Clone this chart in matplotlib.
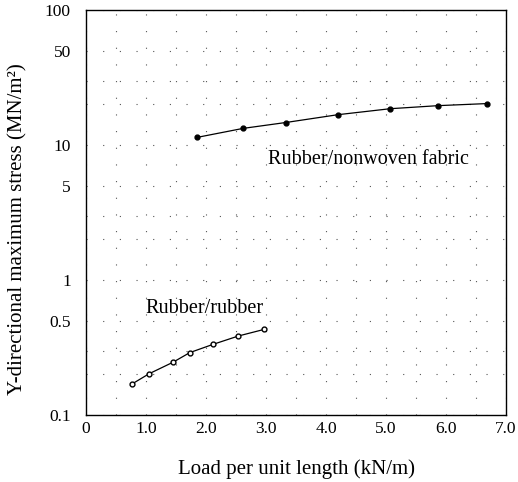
import matplotlib.pyplot as plt
from matplotlib.ticker import FixedLocator, FixedFormatter, MultipleLocator, NullFormatter

plt.rcParams['font.family'] = ['Liberation Serif', 'DejaVu Serif']

# Rubber/nonwoven fabric (filled markers)
x_fabric = [1.85, 2.62, 3.33, 4.20, 5.07, 5.87, 6.68]
y_fabric = [11.4, 13.3, 14.7, 16.8, 18.6, 19.6, 20.3]

# Rubber/rubber (open markers)
x_rubber = [0.76, 1.05, 1.45, 1.73, 2.11, 2.54, 2.97]
y_rubber = [0.169, 0.202, 0.246, 0.290, 0.333, 0.385, 0.431]

x_ticks = [0, 1, 2, 3, 4, 5, 6, 7]
x_labels = ['0', '1.0', '2.0', '3.0', '4.0', '5.0', '6.0', '7.0']
y_ticks = [0.1, 0.5, 1, 5, 10, 50, 100]
y_labels = ['0.1', '0.5', '1', '5', '10', '50', '100']

fig = plt.figure(figsize=(5.18, 4.82), dpi=100)
ax = fig.add_axes([0.166, 0.139, 0.811, 0.84])

ax.plot(x_fabric, y_fabric, '-', color='black', lw=0.9,
        marker='o', markersize=3.5, markerfacecolor='black')
ax.plot(x_rubber, y_rubber, '-', color='black', lw=0.9,
        marker='o', markersize=3.5, markerfacecolor='white')

ax.set_yscale('log')
ax.set_xlim(0, 7)
ax.set_ylim(0.1, 100)

ax.xaxis.set_major_locator(FixedLocator(x_ticks))
ax.xaxis.set_major_formatter(FixedFormatter(x_labels))
ax.xaxis.set_minor_locator(MultipleLocator(0.5))
ax.yaxis.set_major_locator(FixedLocator(y_ticks))
ax.yaxis.set_major_formatter(FixedFormatter(y_labels))
ax.yaxis.set_minor_locator(FixedLocator([0.2, 0.3, 2, 3, 20, 30]))
ax.yaxis.set_minor_formatter(NullFormatter())

ax.tick_params(which='both', length=0, labelsize=12.5)
ax.tick_params(axis='x', pad=4)
ax.tick_params(axis='y', pad=11)
ax.grid(True, which='both', color='#555555', lw=0.8, linestyle=(0, (1, 14)))

for s in ax.spines.values():
    s.set_linewidth(1.0)

ax.text(3.03, 7.8, 'Rubber/nonwoven fabric', fontsize=14.5, va='center')
ax.text(1.98, 0.62, 'Rubber/rubber', fontsize=14.5, va='center', ha='center')

ax.set_xlabel('Load per unit length (kN/m)', fontsize=15, labelpad=16)
ax.set_ylabel('Y-directional maximum stress (MN/m²)', fontsize=15)
ax.yaxis.set_label_coords(-0.14, 0.46)

fig.savefig('out.png', dpi=100)
